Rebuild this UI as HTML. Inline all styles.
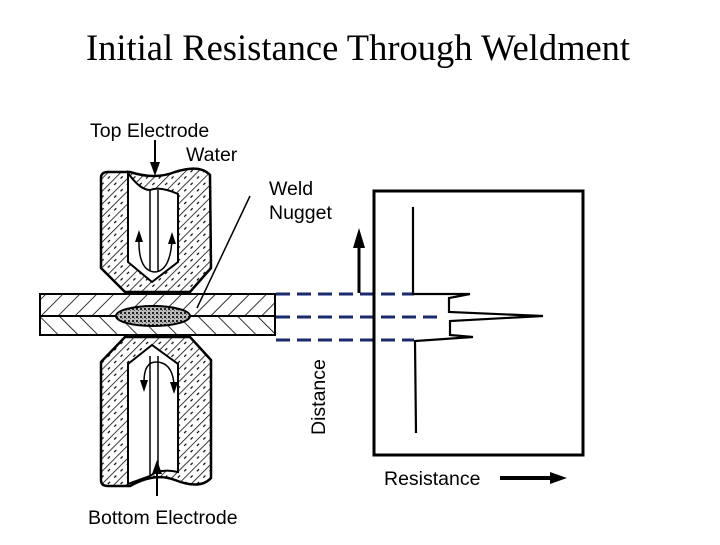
<!DOCTYPE html>
<html><head><style>body{margin:0;background:#fff}</style></head><body>
<svg width="720" height="540" xmlns="http://www.w3.org/2000/svg" font-family="Liberation Sans, sans-serif">
<defs>
<pattern id="h1" width="12" height="12" patternUnits="userSpaceOnUse" patternTransform="rotate(45)"><line x1="0" y1="0" x2="0" y2="12" stroke="#000" stroke-width="1.6"/></pattern>
<pattern id="h2" width="14" height="14" patternUnits="userSpaceOnUse" patternTransform="rotate(-45)"><line x1="0" y1="0" x2="0" y2="14" stroke="#000" stroke-width="1.6"/></pattern>
<pattern id="h3" width="9" height="9" patternUnits="userSpaceOnUse" patternTransform="rotate(45)"><line x1="0" y1="0" x2="0" y2="9" stroke="#000" stroke-width="1.5"/><line x1="4.5" y1="2" x2="4.5" y2="5" stroke="#000" stroke-width="1.2"/></pattern>
<pattern id="dots" width="4" height="4" patternUnits="userSpaceOnUse"><rect width="4" height="4" fill="#bbb"/><rect x="0" y="0" width="2" height="2" fill="#222"/><rect x="2" y="2" width="1" height="1" fill="#555"/></pattern>
</defs>
<text x="358" y="60" font-family="Liberation Serif, serif" font-size="36.5" text-anchor="middle">Initial Resistance Through Weldment</text>
<text x="90" y="137" font-size="19.5">Top Electrode</text>
<text x="186" y="161" font-size="19.5">Water</text>
<text x="269" y="195" font-size="19.5">Weld</text>
<text x="269" y="219" font-size="19.5">Nugget</text>
<text x="88" y="524" font-size="19.5">Bottom Electrode</text>
<text x="384" y="485" font-size="19.5">Resistance</text>
<text transform="translate(325,435) rotate(-90)" font-size="19.5">Distance</text>
<line x1="155" y1="140" x2="155" y2="170" stroke="#000" stroke-width="2"/>
<polygon points="150,162 160,162 155,176" fill="#000"/>
<path d="M101,178 Q101,172 108,172 L130,172 Q155,180 175,172 Q200,164 210,175 L211,268 L190,292 L125,292 L101,268 Z" fill="url(#h3)" stroke="#000" stroke-width="2.5"/>
<path d="M128,173 L128,262 L152,282 L178,262 L178,194 Q160,186 150,190 Q140,190 128,173 Z" fill="#fff" stroke="#000" stroke-width="2"/>
<line x1="150" y1="190" x2="150" y2="270" stroke="#000" stroke-width="1.5"/>
<line x1="158" y1="190" x2="158" y2="272" stroke="#000" stroke-width="1.5"/>
<path d="M139,238 Q138,270 154,272 Q170,272 172,240" fill="none" stroke="#000" stroke-width="1.5"/>
<polygon points="135,242 143,242 139,230" fill="#000"/><polygon points="168,244 176,244 172,232" fill="#000"/>
<rect x="40" y="294" width="235" height="22" fill="url(#h1)" stroke="#000" stroke-width="2"/>
<rect x="40" y="316" width="235" height="19" fill="url(#h2)" stroke="#000" stroke-width="2"/>
<ellipse cx="153" cy="316" rx="37" ry="10" fill="url(#dots)" stroke="#000" stroke-width="2"/>
<line x1="250" y1="196" x2="197" y2="308" stroke="#000" stroke-width="1.5"/>
<path d="M101,362 L125,337 L190,337 L211,360 L211,478 Q200,490 175,480 Q155,472 130,486 L108,486 Q101,486 101,480 Z" fill="url(#h3)" stroke="#000" stroke-width="2.5"/>
<path d="M128,364 L152,345 L178,364 L178,472 Q160,468 150,476 L128,484 Z" fill="#fff" stroke="#000" stroke-width="2"/>
<line x1="150" y1="356" x2="150" y2="476" stroke="#000" stroke-width="1.5"/>
<line x1="158" y1="356" x2="158" y2="472" stroke="#000" stroke-width="1.5"/>
<path d="M144,382 Q144,362 156,362 Q172,362 174,384" fill="none" stroke="#000" stroke-width="1.5"/>
<polygon points="140,380 148,380 144,392" fill="#000"/><polygon points="170,382 178,382 174,394" fill="#000"/>
<line x1="157" y1="470" x2="157" y2="496" stroke="#000" stroke-width="2"/>
<polygon points="152,474 162,474 157,460" fill="#000"/>
<g stroke="#1a2a6c" stroke-width="3" stroke-dasharray="14 7">
<line x1="276" y1="294" x2="414" y2="294"/>
<line x1="276" y1="317" x2="442" y2="317"/>
<line x1="276" y1="340" x2="414" y2="340"/>
</g>
<line x1="359" y1="293" x2="359" y2="240" stroke="#000" stroke-width="3"/>
<polygon points="353,248 365,248 359,228" fill="#000"/>
<rect x="374" y="191" width="209" height="264" fill="none" stroke="#000" stroke-width="3"/>
<path d="M413,207 L413,294 L470,294 L449,298 L449,312 L543,316 L450,321 L450,335 L473,337 L415,341 L416,433" fill="none" stroke="#000" stroke-width="2.2"/>
<line x1="500" y1="478" x2="555" y2="478" stroke="#000" stroke-width="4"/>
<polygon points="550,472 567,478 550,484" fill="#000"/>
</svg>
</body></html>
